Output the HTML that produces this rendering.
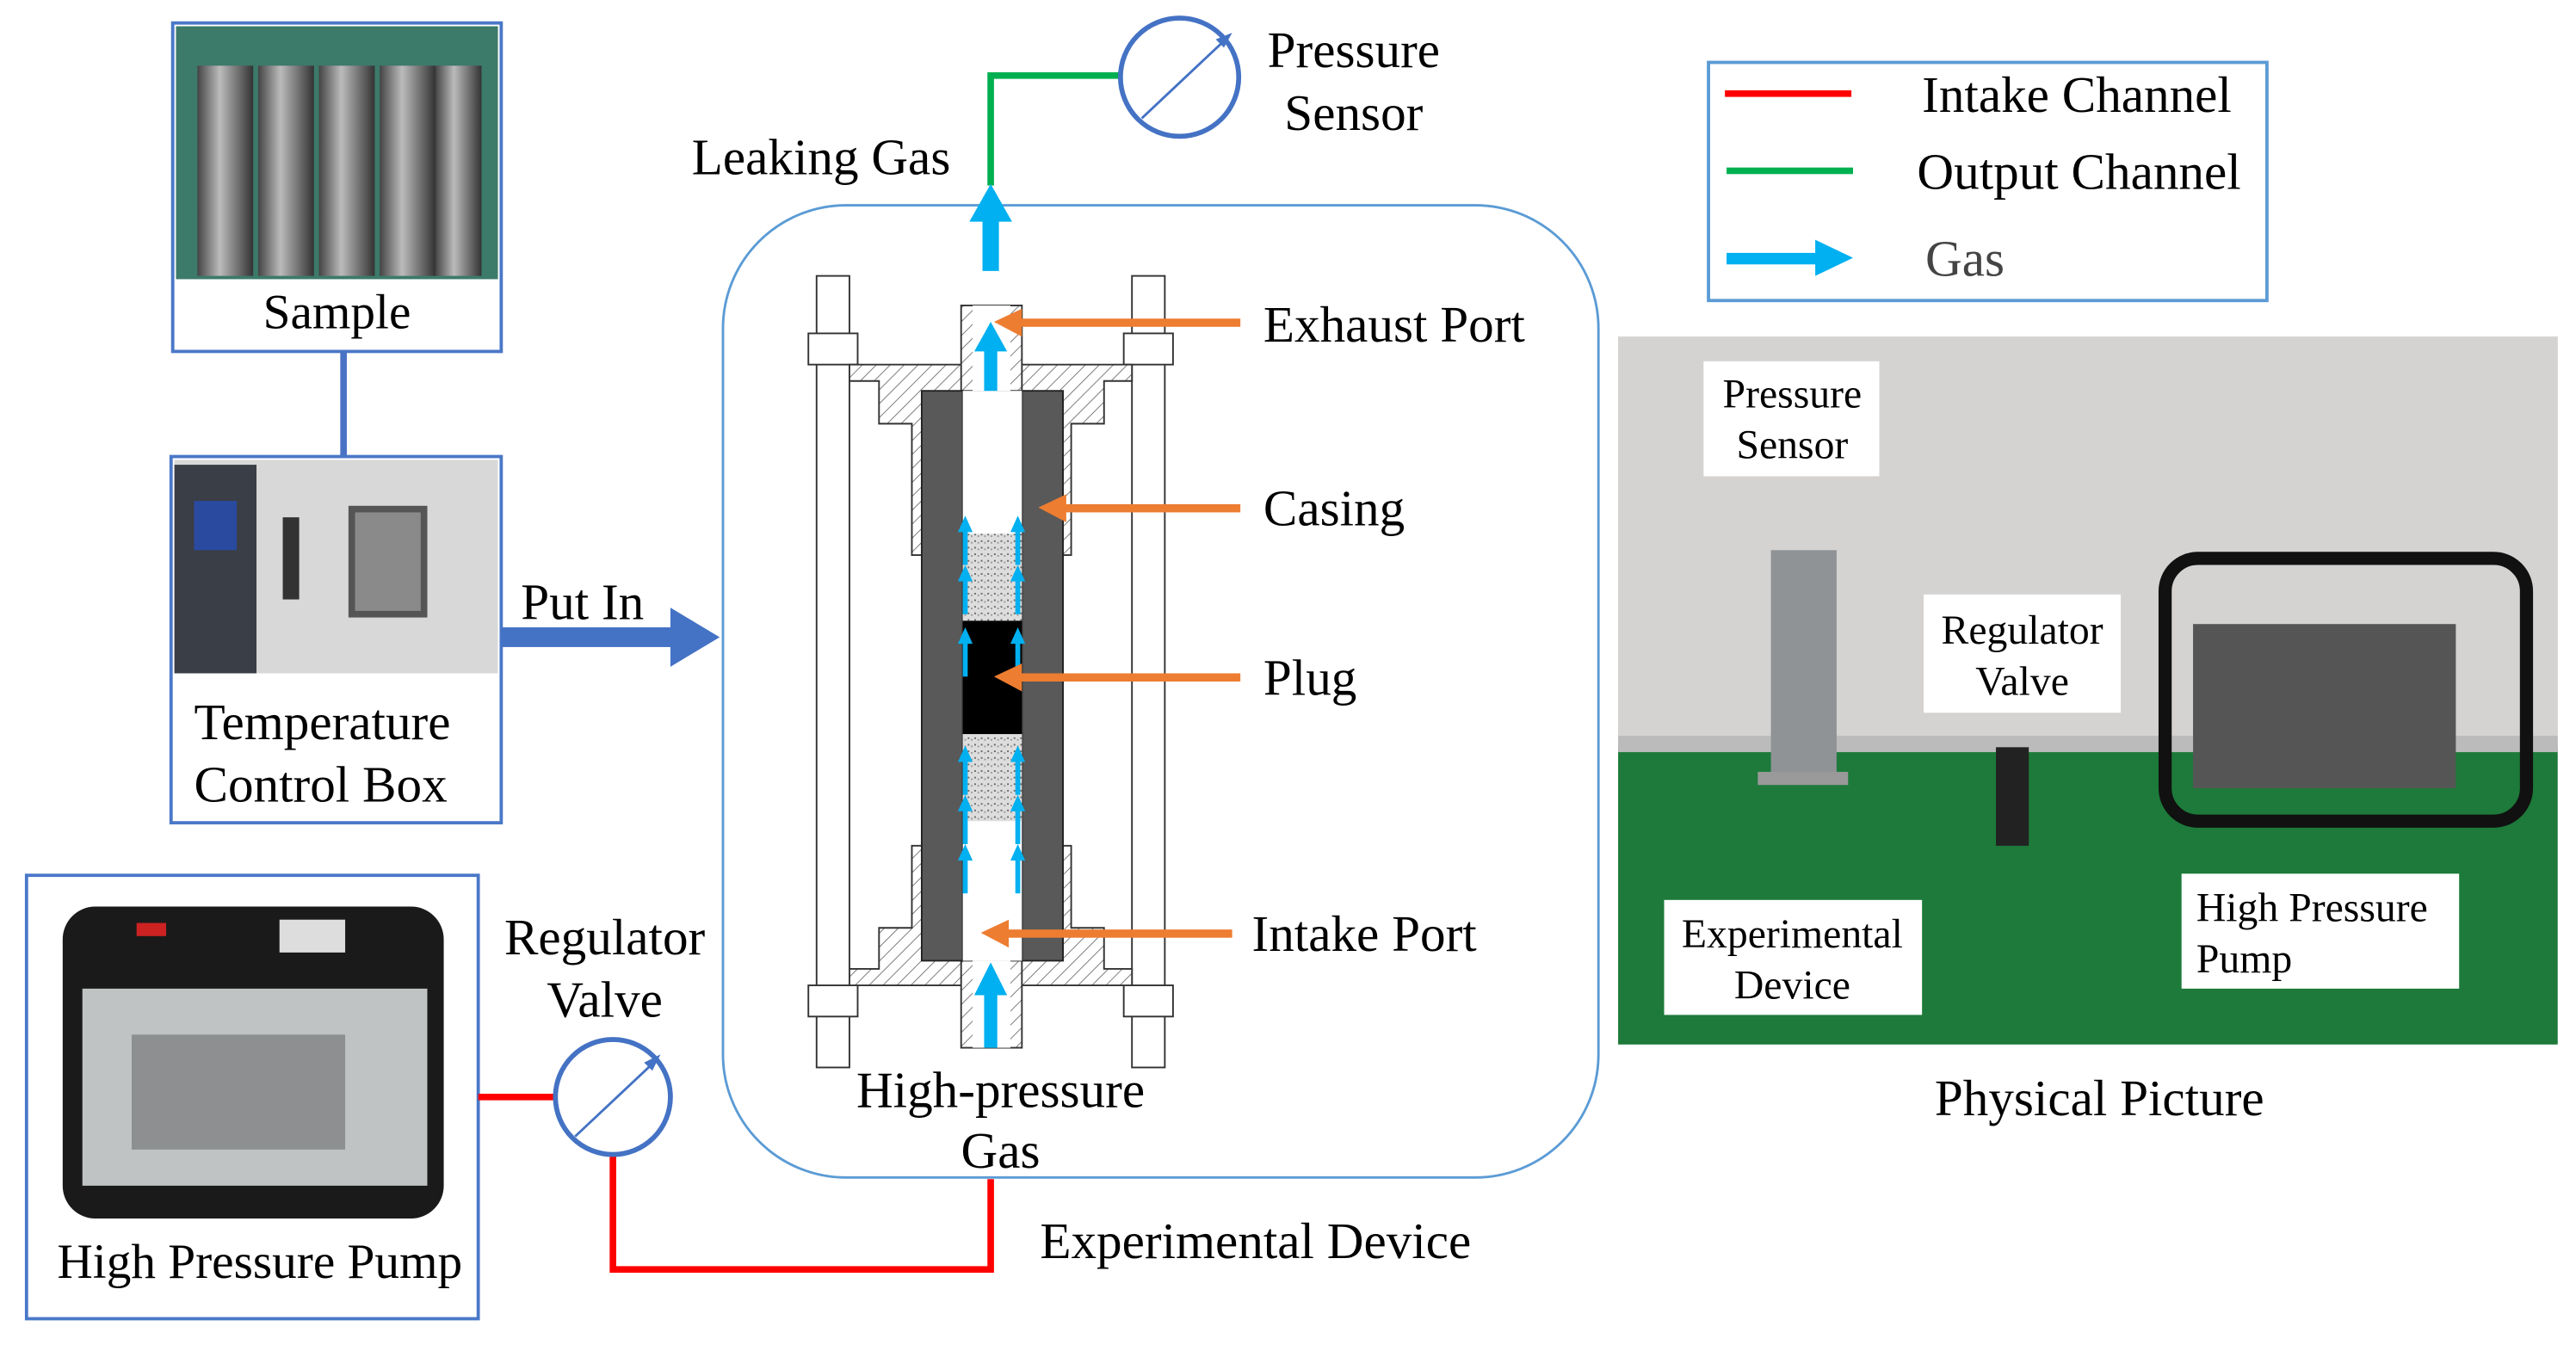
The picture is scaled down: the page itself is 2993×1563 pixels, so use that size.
<!DOCTYPE html>
<html><head><meta charset="utf-8"><style>html,body{margin:0;padding:0;background:#fff}svg{display:block}</style></head>
<body>
<svg width="2993" height="1563" viewBox="0 0 1568 819" xmlns="http://www.w3.org/2000/svg" font-family="'Liberation Serif', serif">
<defs>
<pattern id="h" width="6" height="6" patternUnits="userSpaceOnUse" patternTransform="rotate(45)"><rect width="6" height="6" fill="#fff"/><line x1="0" y1="0" x2="0" y2="6" stroke="#777" stroke-width="1"/></pattern>
<pattern id="sp" width="4" height="4" patternUnits="userSpaceOnUse"><rect width="4" height="4" fill="#ddd"/><rect x="1" y="1" width="1" height="1" fill="#666"/><rect x="3" y="2" width="1" height="1" fill="#999"/></pattern>
<linearGradient id="cyl" x1="0" x2="1"><stop offset="0" stop-color="#444"/><stop offset="0.4" stop-color="#bbb"/><stop offset="0.7" stop-color="#777"/><stop offset="1" stop-color="#333"/></linearGradient>
</defs>
<!-- Sample -->
<rect x="105" y="14" width="200" height="200" fill="#fff" stroke="#4a78c8" stroke-width="2"/>
<rect x="107" y="16" width="196" height="154" fill="#3c7a6a"/>
<g fill="url(#cyl)"><rect x="120" y="40" width="34" height="128"/><rect x="157" y="40" width="34" height="128"/><rect x="194" y="40" width="34" height="128"/><rect x="231" y="40" width="34" height="128"/><rect x="265" y="40" width="28" height="128"/></g>
<text x="205" y="200" font-size="30" text-anchor="middle">Sample</text>
<line x1="209" y1="214" x2="209" y2="278" stroke="#4a72c4" stroke-width="4"/>
<!-- Temp box -->
<rect x="104" y="278" width="201" height="223" fill="#fff" stroke="#4a78c8" stroke-width="2"/>
<rect x="106" y="280" width="197" height="130" fill="#d8d8d8"/>
<rect x="106" y="283" width="50" height="127" fill="#3a3e46"/>
<rect x="118" y="305" width="26" height="30" fill="#2a4aa0"/>
<rect x="172" y="315" width="10" height="50" fill="#333"/>
<rect x="212" y="308" width="48" height="68" fill="#555"/>
<rect x="216" y="312" width="40" height="60" fill="#8a8a8a"/>
<text x="118" y="450" font-size="31">Temperature</text>
<text x="118" y="488" font-size="31">Control Box</text>
<!-- Put In -->
<rect x="305" y="382" width="106" height="12" fill="#4472c4"/>
<polygon points="408,370 438,388 408,406" fill="#4472c4"/>
<text x="317" y="377" font-size="31">Put In</text>
<!-- Pump -->
<rect x="16" y="533" width="275" height="270" fill="#fff" stroke="#4a78c8" stroke-width="2"/>
<rect x="38" y="552" width="232" height="190" rx="20" fill="#1a1a1a"/>
<rect x="50" y="602" width="210" height="120" fill="#bfc3c4"/>
<rect x="80" y="630" width="130" height="70" fill="#8d8f90"/>
<rect x="83" y="562" width="18" height="8" fill="#c22"/>
<rect x="170" y="560" width="40" height="20" fill="#ddd"/>
<text x="158" y="778" font-size="30" text-anchor="middle">High Pressure Pump</text>
<!-- red line -->
<polyline points="291,668 338,668" fill="none" stroke="#f00" stroke-width="4"/>
<polyline points="373,703 373,773 603,773 603,718" fill="none" stroke="#f00" stroke-width="4"/>
<circle cx="373" cy="668" r="35" fill="#fff" stroke="#4472c4" stroke-width="3"/>
<line x1="350" y1="692" x2="400" y2="645" stroke="#4472c4" stroke-width="1.5"/><polygon points="402,642 392,647 397,652" fill="#4472c4"/>
<text x="368" y="581" font-size="31" text-anchor="middle">Regulator</text>
<text x="368" y="619" font-size="31" text-anchor="middle">Valve</text>
<!-- Device box -->
<rect x="440" y="125" width="533" height="592" rx="75" fill="none" stroke="#5b9bd5" stroke-width="1.5"/>
<text x="633" y="766" font-size="31">Experimental Device</text>
<!-- green & sensor -->
<polyline points="603,113 603,46 683,46" fill="none" stroke="#00b050" stroke-width="4"/>
<circle cx="718" cy="47" r="36" fill="#fff" stroke="#4472c4" stroke-width="3"/>
<line x1="695" y1="72" x2="746" y2="24" stroke="#4472c4" stroke-width="1.5"/><polygon points="750,20 740,24 745,29" fill="#4472c4"/>
<text x="824" y="41" font-size="31" text-anchor="middle">Pressure</text>
<text x="824" y="79" font-size="31" text-anchor="middle">Sensor</text>
<text x="421" y="106" font-size="31">Leaking Gas</text>
<rect x="598" y="133" width="10" height="32" fill="#00b0f0"/><polygon points="590,135 603,112 616,135" fill="#00b0f0"/>
<!-- device internals -->
<g stroke="#333" stroke-width="1">
<rect x="497" y="168" width="20" height="482" fill="#fff"/>
<rect x="689" y="168" width="20" height="482" fill="#fff"/>
<rect x="492" y="203" width="30" height="19" fill="#fff"/><rect x="684" y="203" width="30" height="19" fill="#fff"/>
<rect x="492" y="600" width="30" height="19" fill="#fff"/><rect x="684" y="600" width="30" height="19" fill="#fff"/>
<path d="M517,222 H689 V232 H672 V258 H652 V338 H555 V258 H535 V232 H517 Z" fill="url(#h)"/>
<path d="M517,600 H689 V590 H672 V565 H652 V515 H555 V565 H535 V590 H517 Z" fill="url(#h)"/>
<rect x="585" y="186" width="37" height="52" fill="url(#h)"/>
<rect x="585" y="585" width="37" height="53" fill="url(#h)"/>
</g>
<rect x="561" y="238" width="25" height="347" fill="#595959" stroke="#222"/>
<rect x="622" y="238" width="25" height="347" fill="#595959" stroke="#222"/>
<rect x="586" y="238" width="36" height="347" fill="#fff"/>
<rect x="592" y="186" width="23" height="52" fill="#fff"/>
<rect x="592" y="585" width="23" height="53" fill="#fff"/>
<rect x="586" y="325" width="36" height="53" fill="url(#sp)"/>
<rect x="586" y="447" width="36" height="53" fill="url(#sp)"/>
<rect x="586" y="378" width="36" height="69" fill="#000"/>
<g fill="#00b0f0">
<rect x="599" y="212" width="8" height="26"/><polygon points="593,214 603,196 613,214"/>
<rect x="599" y="604" width="8" height="34"/><polygon points="593,606 603,586 613,606"/>
<g id="sa"><rect x="586" y="322" width="3" height="22"/><polygon points="583,324 587.5,314 592,324"/><rect x="618" y="322" width="3" height="22"/><polygon points="615,324 619.5,314 624,324"/></g>
<use href="#sa" y="30"/><use href="#sa" y="68"/><use href="#sa" y="140"/><use href="#sa" y="170"/><use href="#sa" y="200"/>
</g>
<g fill="#ed7d31">
<rect x="620" y="194" width="135" height="5"/><polygon points="605,196 622,188 622,205"/>
<rect x="647" y="307" width="108" height="5"/><polygon points="632,309 649,301 649,318"/>
<rect x="620" y="410" width="135" height="5"/><polygon points="605,412 622,404 622,421"/>
<rect x="612" y="566" width="138" height="5"/><polygon points="597,568 614,560 614,577"/>
</g>
<text x="769" y="208" font-size="31">Exhaust Port</text>
<text x="769" y="320" font-size="31">Casing</text>
<text x="769" y="423" font-size="31">Plug</text>
<text x="762" y="579" font-size="31">Intake Port</text>
<text x="609" y="674" font-size="31" text-anchor="middle">High-pressure</text>
<text x="609" y="711" font-size="31" text-anchor="middle">Gas</text>
<!-- legend -->
<rect x="1040" y="38" width="340" height="145" fill="#fff" stroke="#5b9bd5" stroke-width="2"/>
<rect x="1050" y="55" width="77" height="4" fill="#f00"/>
<rect x="1051" y="102" width="77" height="4" fill="#00b050"/>
<rect x="1051" y="154" width="58" height="7" fill="#00b0f0"/><polygon points="1105,146 1128,157 1105,168" fill="#00b0f0"/>
<text x="1170" y="68" font-size="31">Intake Channel</text>
<text x="1167" y="115" font-size="31">Output Channel</text>
<text x="1172" y="168" font-size="31" fill="#444">Gas</text>
<!-- photo -->
<rect x="985" y="205" width="572" height="431" fill="#c9c9c7"/>
<rect x="985" y="205" width="572" height="250" fill="#d4d3d1"/>
<rect x="985" y="455" width="572" height="181" fill="#1d7a3a"/>
<rect x="985" y="448" width="572" height="10" fill="#bbb"/>
<rect x="1078" y="335" width="40" height="140" fill="#8f9396"/>
<rect x="1070" y="470" width="55" height="8" fill="#999"/>
<rect x="1215" y="455" width="20" height="60" fill="#222"/>
<rect x="1318" y="340" width="220" height="160" rx="20" fill="none" stroke="#111" stroke-width="8"/>
<rect x="1335" y="380" width="160" height="100" fill="#555"/>
<rect x="1037" y="220" width="107" height="70" fill="#fff"/>
<rect x="1171" y="362" width="120" height="72" fill="#fff"/>
<rect x="1013" y="548" width="157" height="70" fill="#fff"/>
<rect x="1328" y="532" width="169" height="70" fill="#fff"/>
<g font-size="25">
<text x="1091" y="248" text-anchor="middle">Pressure</text><text x="1091" y="279" text-anchor="middle">Sensor</text>
<text x="1231" y="392" text-anchor="middle">Regulator</text><text x="1231" y="423" text-anchor="middle">Valve</text>
<text x="1091" y="577" text-anchor="middle">Experimental</text><text x="1091" y="608" text-anchor="middle">Device</text>
<text x="1337" y="561">High Pressure</text><text x="1337" y="592">Pump</text>
</g>
<text x="1278" y="679" font-size="31" text-anchor="middle">Physical Picture</text>
</svg>
</body></html>
